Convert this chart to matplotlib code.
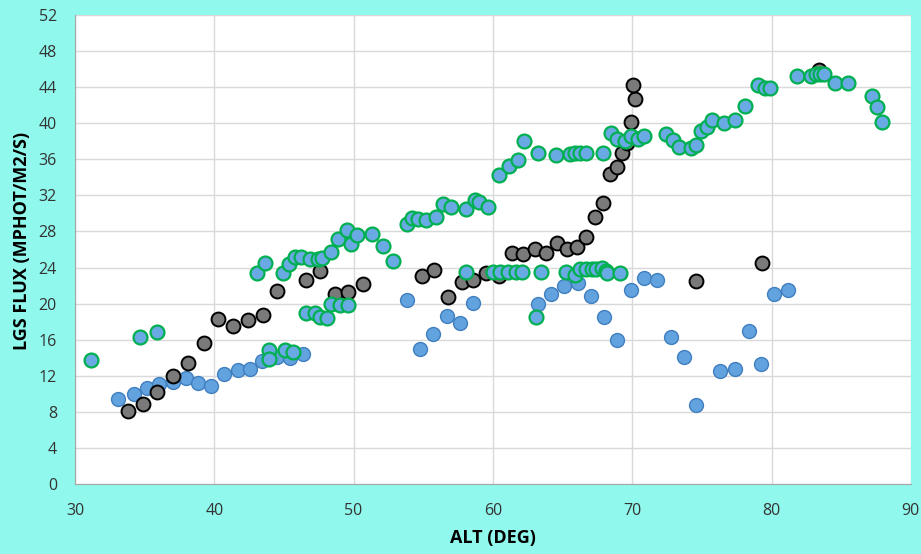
import matplotlib.pyplot as plt
import numpy as np

# LGS flux vs altitude, three nights/sets
blue_alt = [33.06, 34.24, 35.15, 36.05, 37.06, 37.95, 38.85, 39.8, 40.7, 41.7, 42.56, 43.45,
            44.5, 45.4, 46.35, 53.85, 54.8, 55.7, 56.7, 57.65, 58.55, 63.26, 64.17, 65.13,
            66.08, 67.06, 68.0, 68.9, 69.9, 70.87, 71.8, 72.8, 73.7, 74.6, 76.3, 77.4,
            78.35, 79.25, 80.2, 81.2]
blue_flux = [9.4, 9.94, 10.6, 11.1, 11.3, 11.8, 11.16, 10.86, 12.2, 12.6, 12.8, 13.6,
             14.1, 14.0, 14.4, 20.4, 15.0, 16.6, 18.6, 17.8, 20.1, 20.0, 21.1, 21.95,
             22.25, 20.8, 18.55, 15.97, 21.5, 22.8, 22.6, 16.3, 14.1, 8.76, 12.56, 12.7,
             17.0, 13.3, 21.06, 21.5]

black_alt = [33.8, 34.9, 35.9, 37.06, 38.1, 39.26, 40.3, 41.36, 42.4, 43.5, 44.5, 46.56,
             47.6, 48.65, 49.6, 50.7, 54.9, 55.8, 56.8, 57.75, 58.6, 59.5, 60.45, 61.35,
             62.15, 63.0, 63.8, 64.6, 65.3, 66.0, 66.7, 67.3, 67.9, 68.4, 68.9, 69.3,
             69.6, 69.9, 70.2, 70.08, 74.55, 79.3, 83.4]
black_flux = [8.1, 8.9, 10.2, 12.0, 13.4, 15.6, 18.26, 17.5, 18.2, 18.7, 21.4, 22.6,
              23.65, 21.06, 21.25, 22.2, 23.1, 23.7, 20.7, 22.4, 22.6, 23.35, 23.1, 25.6,
              25.5, 26.0, 25.65, 26.7, 26.1, 26.3, 27.4, 29.6, 31.1, 34.4, 35.1, 36.7,
              37.8, 40.1, 42.65, 44.2, 22.5, 24.5, 45.9]

green_alt = [31.15, 34.7, 35.9, 43.04, 43.64, 43.95, 43.95, 44.95, 45.08, 45.36, 45.67,
             45.8, 46.2, 46.6, 46.87, 47.25, 47.42, 47.6, 47.75, 48.1, 48.35, 48.4, 48.9,
             49.0, 49.55, 49.6, 49.8, 50.27, 51.35, 52.1, 52.8, 53.8, 54.2, 54.6, 55.2,
             55.9, 56.4, 57.0, 58.05, 58.1, 58.7, 59.0, 59.65, 60.0, 60.45, 60.5, 61.1,
             61.15, 61.65, 61.8, 62.06, 62.25, 63.1, 63.2, 63.45, 64.5, 65.25, 65.5,
             65.9, 65.9, 66.25, 66.25, 66.7, 66.7, 67.1, 67.4, 67.8, 67.9, 68.1, 68.2,
             68.5, 68.9, 69.1, 69.5, 69.9, 70.4, 70.85, 72.4, 72.9, 73.36, 74.2, 74.55,
             74.9, 75.35, 75.75, 76.6, 77.4, 78.1, 79.05, 79.5, 79.9, 81.8, 82.8, 83.2,
             83.45, 83.75, 84.55, 85.5, 87.2, 87.55, 87.9]
green_flux = [13.8, 16.3, 16.8, 23.36, 24.47, 14.86, 13.9, 23.4, 14.9, 24.4, 14.6,
              25.2, 25.2, 19.0, 24.9, 19.0, 24.9, 18.5, 25.0, 18.4, 25.75, 19.9, 27.2,
              19.85, 28.2, 19.85, 26.6, 27.6, 27.7, 26.4, 24.7, 28.8, 29.5, 29.4, 29.3,
              29.6, 31.0, 30.7, 23.5, 30.5, 31.5, 31.3, 30.7, 23.5, 34.3, 23.5, 23.5,
              35.2, 23.5, 35.9, 23.5, 38.0, 18.55, 36.7, 23.5, 36.5, 23.5, 36.55,
              36.65, 23.2, 36.65, 23.8, 36.65, 23.8, 23.8, 23.8, 23.9, 36.65, 23.65, 23.35,
              38.9, 38.3, 23.4, 38.0, 38.6, 38.2, 38.6, 38.8, 38.1, 37.4, 37.3, 37.6,
              39.1, 39.6, 40.3, 40.0, 40.4, 41.9, 44.2, 43.95, 43.9, 45.2, 45.2, 45.4,
              45.45, 45.5, 44.5, 44.5, 43.0, 41.8, 40.1]

bg = '#90f8ec'

fig = plt.figure(figsize=(9.21, 5.54), dpi=100, facecolor=bg)
ax = fig.add_axes([0.0814, 0.1264, 0.9076, 0.8466])
ax.set_facecolor('white')

ax.scatter(blue_alt, blue_flux, s=100, c='#62a2de', edgecolors='#3f7fbf',
           linewidths=1.0, zorder=3)
ax.scatter(black_alt, black_flux, s=100, c='#7a7a7a', edgecolors='black',
           linewidths=1.4, zorder=4)
ax.scatter(green_alt, green_flux, s=100, c='#6aaae4', edgecolors='#00b050',
           linewidths=1.6, zorder=5)

ax.set_xlim(30, 90)
ax.set_ylim(0, 52)
ax.set_xticks(np.arange(30, 91, 10))
ax.set_yticks(np.arange(0, 53, 4))
ax.grid(True, color='#d9d9d9', linewidth=1.0, zorder=0)
ax.set_axisbelow(True)

for s in ['top', 'right']:
    ax.spines[s].set_visible(False)
for s in ['left', 'bottom']:
    ax.spines[s].set_color('#a6a6a6')

ax.tick_params(length=0, labelsize=11.5, colors='#333333')
ax.tick_params(axis='y', pad=13)
ax.tick_params(axis='x', pad=14)
for lbl in ax.get_xticklabels() + ax.get_yticklabels():
    lbl.set_family('Open Sans')

ax.set_xlabel('ALT (DEG)', fontsize=13, fontweight='bold', family='Open Sans',
              labelpad=7)
ax.set_ylabel('LGS FLUX (MPHOT/M2/S)', fontsize=13, fontweight='bold',
              family='Open Sans')
ax.yaxis.set_label_coords(-0.053, 0.518)

fig.savefig('out.png', dpi=100, facecolor=bg)
